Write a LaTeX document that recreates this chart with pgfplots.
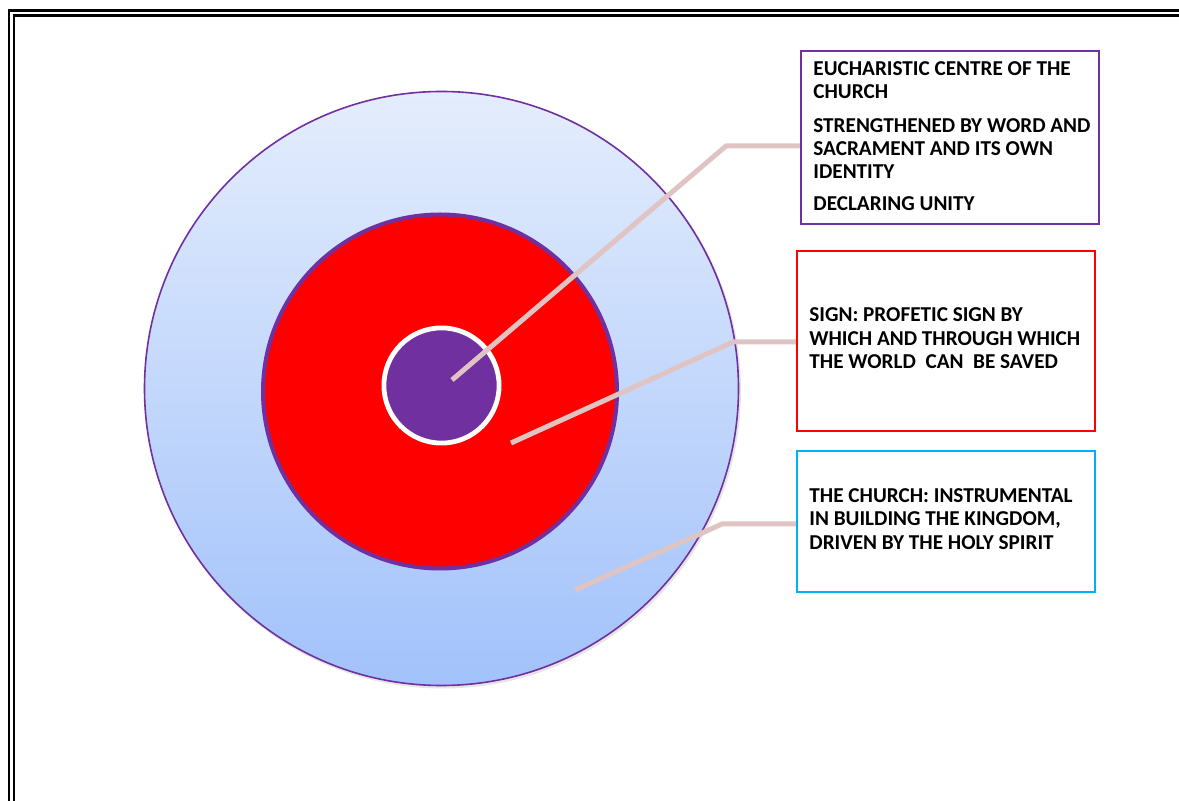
\documentclass[border=0pt]{standalone}
\usepackage{pgfplots}
\pgfplotsset{compat=1.18}
\usepackage{fontspec}
\setmainfont{Carlito}
\definecolor{cpurple}{HTML}{7030A0}
\definecolor{cline}{HTML}{E0C4C4}
\definecolor{ccyan}{HTML}{00B0F0}
\definecolor{ctop}{HTML}{E4EDFC}
\definecolor{cbot}{HTML}{A2C2FB}
\begin{document}
\begin{tikzpicture}
\begin{axis}[
  width=589.5pt, height=400.5pt, scale only axis,
  xmin=0, xmax=1179, ymin=0, ymax=801, y dir=reverse,
  hide axis, clip=false, anchor=south west, at={(0,0)},
]
% frame (double line)
\addplot[black, line width=1.3pt, forget plot] coordinates {(9,801)(9,10.5)(1179,10.5)};
\addplot[black, line width=1.3pt, forget plot] coordinates {(14,801)(14,15.5)(1179,15.5)};
% shadow
\fill[black!10] (axis cs:443,390.5) circle[radius=149pt];
% outer circle
\shade[top color=ctop, bottom color=cbot, draw=cpurple, line width=0.8pt] (axis cs:441.5,388.5) circle[radius=148.5pt];
% red circle
\fill[red, draw=cpurple, line width=2pt] (axis cs:440,391.5) circle[radius=88.5pt];
% inner purple circle
\fill[cpurple, draw=white, line width=2.4pt] (axis cs:441.5,385.5) circle[radius=28.8pt];
% connectors
\addplot[cline, line width=2.5pt, forget plot] coordinates {(452,380)(726,146)(800,146)};
\addplot[cline, line width=2.5pt, forget plot] coordinates {(511,443)(733,342)(797,342)};
\addplot[cline, line width=2.5pt, forget plot] coordinates {(575,590)(722,524)(797,524)};
% boxes
\draw[cpurple, line width=0.9pt, fill=white] (axis cs:801,51) rectangle (axis cs:1099,224);
\draw[red, line width=0.9pt, fill=white] (axis cs:797,251) rectangle (axis cs:1095,431);
\draw[ccyan, line width=0.9pt, fill=white] (axis cs:797,451) rectangle (axis cs:1095,592);
% texts
\tikzset{lbl/.style={anchor=base west, inner sep=0pt, font=\fontsize{10.6pt}{12pt}\selectfont\bfseries}}
\node[lbl] at (axis cs:813,76) {EUCHARISTIC CENTRE OF THE};
\node[lbl] at (axis cs:813,99) {CHURCH};
\node[lbl] at (axis cs:813,133) {STRENGTHENED BY WORD AND};
\node[lbl] at (axis cs:813,156) {SACRAMENT AND ITS OWN};
\node[lbl] at (axis cs:813,179) {IDENTITY};
\node[lbl] at (axis cs:813,211) {DECLARING UNITY};
\node[lbl] at (axis cs:809,322) {SIGN: PROFETIC SIGN BY};
\node[lbl] at (axis cs:809,346) {WHICH AND THROUGH WHICH};
\node[lbl] at (axis cs:809,369) {THE WORLD \ CAN \ BE SAVED};
\node[lbl] at (axis cs:809,503) {THE CHURCH: INSTRUMENTAL};
\node[lbl] at (axis cs:809,526) {IN BUILDING THE KINGDOM,};
\node[lbl] at (axis cs:809,550) {DRIVEN BY THE HOLY SPIRIT};
\end{axis}
\pgfresetboundingbox
\path[use as bounding box] (0,0) rectangle (589.5pt,400.5pt);
\end{tikzpicture}
\end{document}
